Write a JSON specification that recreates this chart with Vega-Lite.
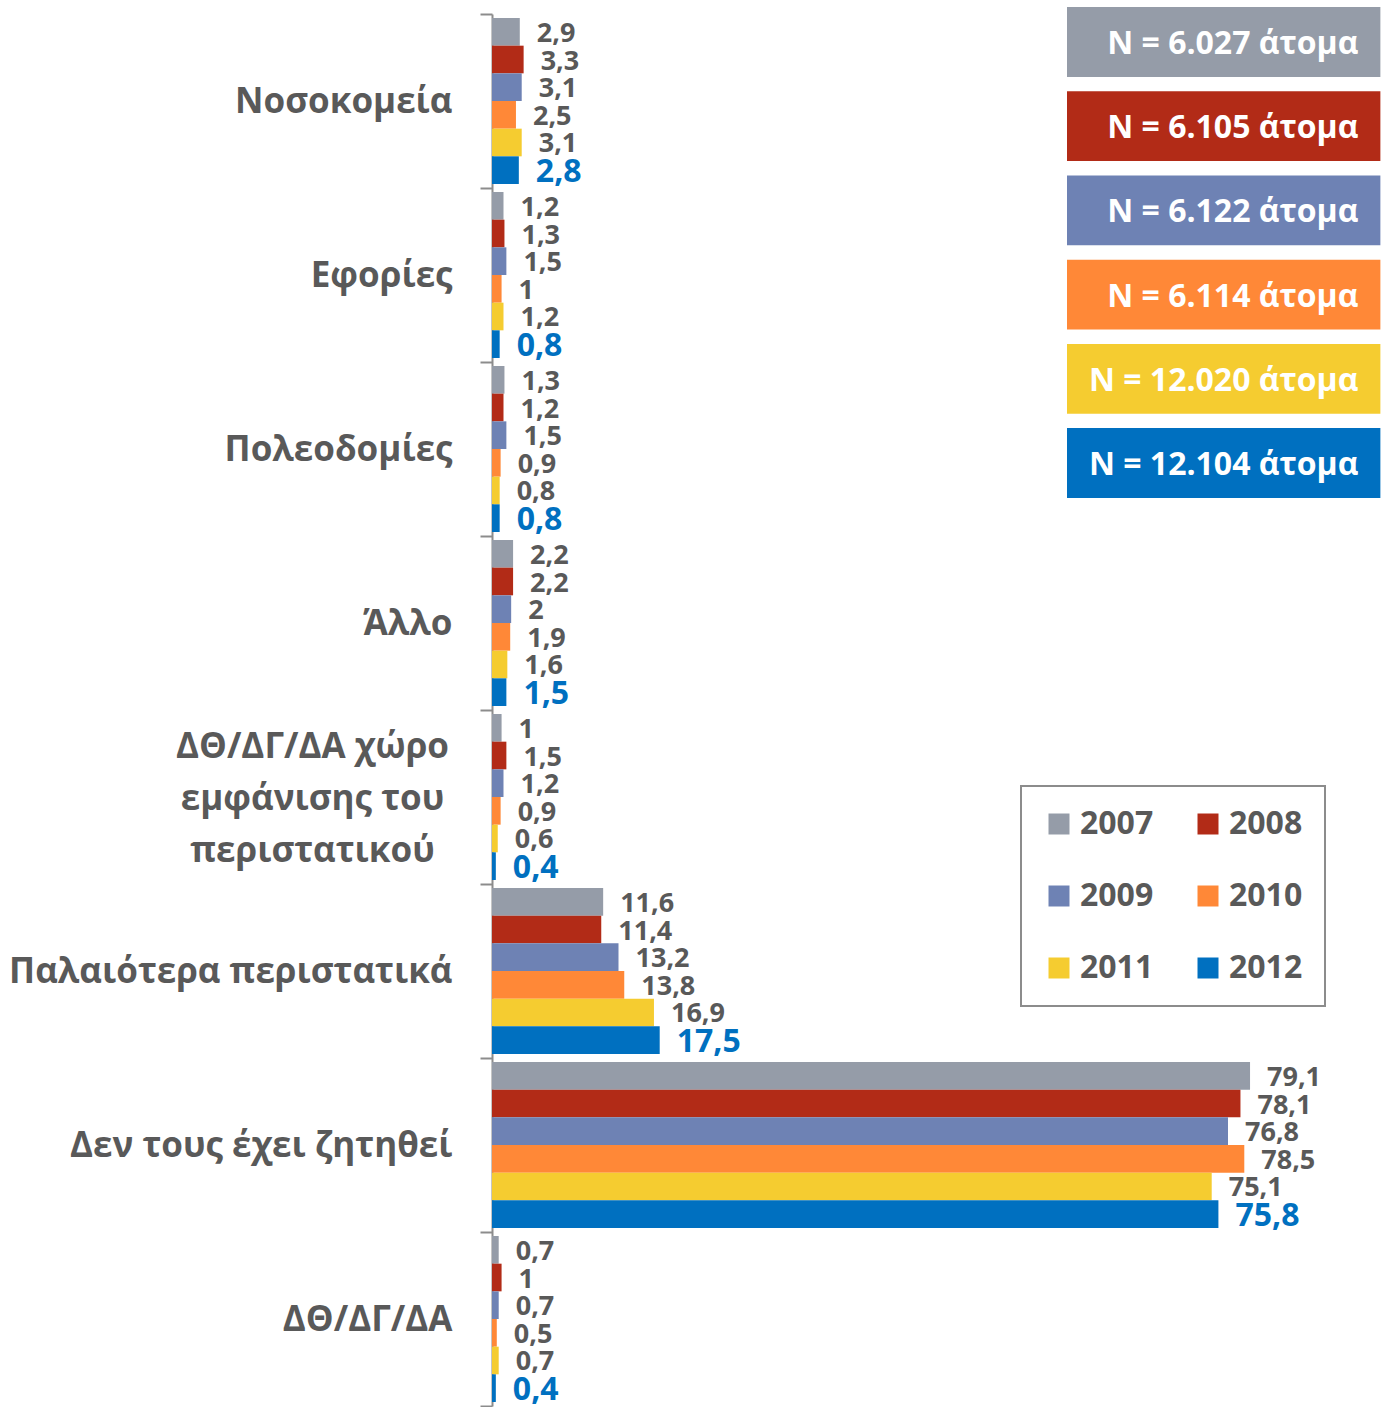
{
  "$schema": "https://vega.github.io/schema/vega-lite/v6.json",
  "width": 897,
  "height": 1392,
  "autosize": "none",
  "padding": {"top": 14, "left": 492, "right": 0, "bottom": 1},
  "background": "white",
  "config": {
    "view": {"stroke": null},
    "font": "Open Sans",
    "locale": {"number": {"decimal": ",", "thousands": ".", "grouping": [3], "currency": ["", "€"]}},
    "legend": {
      "orient": "none",
      "direction": "horizontal",
      "legendX": 529,
      "legendY": 772,
      "columns": 2,
      "columnPadding": 38,
      "rowPadding": 40,
      "padding": 22,
      "strokeColor": "#8C8C8C",
      "strokeWidth": 2,
      "symbolType": "square",
      "symbolSize": 441,
      "symbolStrokeWidth": 0,
      "labelFont": "Open Sans",
      "labelFontSize": 32,
      "labelFontWeight": "bold",
      "labelColor": "#595959",
      "labelOffset": 5,
      "title": null
    }
  },
  "layer": [
    {
      "data": {
        "values": [
          {"category": "Νοσοκομεία", "year": "2007", "value": 2.9},
          {"category": "Νοσοκομεία", "year": "2008", "value": 3.3},
          {"category": "Νοσοκομεία", "year": "2009", "value": 3.1},
          {"category": "Νοσοκομεία", "year": "2010", "value": 2.5},
          {"category": "Νοσοκομεία", "year": "2011", "value": 3.1},
          {"category": "Νοσοκομεία", "year": "2012", "value": 2.8},
          {"category": "Εφορίες", "year": "2007", "value": 1.2},
          {"category": "Εφορίες", "year": "2008", "value": 1.3},
          {"category": "Εφορίες", "year": "2009", "value": 1.5},
          {"category": "Εφορίες", "year": "2010", "value": 1},
          {"category": "Εφορίες", "year": "2011", "value": 1.2},
          {"category": "Εφορίες", "year": "2012", "value": 0.8},
          {"category": "Πολεοδομίες", "year": "2007", "value": 1.3},
          {"category": "Πολεοδομίες", "year": "2008", "value": 1.2},
          {"category": "Πολεοδομίες", "year": "2009", "value": 1.5},
          {"category": "Πολεοδομίες", "year": "2010", "value": 0.9},
          {"category": "Πολεοδομίες", "year": "2011", "value": 0.8},
          {"category": "Πολεοδομίες", "year": "2012", "value": 0.8},
          {"category": "Άλλο", "year": "2007", "value": 2.2},
          {"category": "Άλλο", "year": "2008", "value": 2.2},
          {"category": "Άλλο", "year": "2009", "value": 2},
          {"category": "Άλλο", "year": "2010", "value": 1.9},
          {"category": "Άλλο", "year": "2011", "value": 1.6},
          {"category": "Άλλο", "year": "2012", "value": 1.5},
          {"category": "ΔΘ/ΔΓ/ΔΑ χώρο εμφάνισης του περιστατικού", "year": "2007", "value": 1},
          {"category": "ΔΘ/ΔΓ/ΔΑ χώρο εμφάνισης του περιστατικού", "year": "2008", "value": 1.5},
          {"category": "ΔΘ/ΔΓ/ΔΑ χώρο εμφάνισης του περιστατικού", "year": "2009", "value": 1.2},
          {"category": "ΔΘ/ΔΓ/ΔΑ χώρο εμφάνισης του περιστατικού", "year": "2010", "value": 0.9},
          {"category": "ΔΘ/ΔΓ/ΔΑ χώρο εμφάνισης του περιστατικού", "year": "2011", "value": 0.6},
          {"category": "ΔΘ/ΔΓ/ΔΑ χώρο εμφάνισης του περιστατικού", "year": "2012", "value": 0.4},
          {"category": "Παλαιότερα περιστατικά", "year": "2007", "value": 11.6},
          {"category": "Παλαιότερα περιστατικά", "year": "2008", "value": 11.4},
          {"category": "Παλαιότερα περιστατικά", "year": "2009", "value": 13.2},
          {"category": "Παλαιότερα περιστατικά", "year": "2010", "value": 13.8},
          {"category": "Παλαιότερα περιστατικά", "year": "2011", "value": 16.9},
          {"category": "Παλαιότερα περιστατικά", "year": "2012", "value": 17.5},
          {"category": "Δεν τους έχει ζητηθεί", "year": "2007", "value": 79.1},
          {"category": "Δεν τους έχει ζητηθεί", "year": "2008", "value": 78.1},
          {"category": "Δεν τους έχει ζητηθεί", "year": "2009", "value": 76.8},
          {"category": "Δεν τους έχει ζητηθεί", "year": "2010", "value": 78.5},
          {"category": "Δεν τους έχει ζητηθεί", "year": "2011", "value": 75.1},
          {"category": "Δεν τους έχει ζητηθεί", "year": "2012", "value": 75.8},
          {"category": "ΔΘ/ΔΓ/ΔΑ", "year": "2007", "value": 0.7},
          {"category": "ΔΘ/ΔΓ/ΔΑ", "year": "2008", "value": 1},
          {"category": "ΔΘ/ΔΓ/ΔΑ", "year": "2009", "value": 0.7},
          {"category": "ΔΘ/ΔΓ/ΔΑ", "year": "2010", "value": 0.5},
          {"category": "ΔΘ/ΔΓ/ΔΑ", "year": "2011", "value": 0.7},
          {"category": "ΔΘ/ΔΓ/ΔΑ", "year": "2012", "value": 0.4}
        ]
      },
      "encoding": {
        "y": {
          "field": "category",
          "type": "nominal",
          "sort": null,
          "scale": {"paddingInner": 0, "paddingOuter": 0},
          "axis": {
            "title": null,
            "grid": false,
            "domainColor": "#8C8C8C",
            "domainWidth": 2,
            "tickColor": "#8C8C8C",
            "tickWidth": 2,
            "tickSize": 12,
            "tickBand": "extent",
            "labelPadding": {"condition": {"test": "datum.value == 'ΔΘ/ΔΓ/ΔΑ χώρο εμφάνισης του περιστατικού'", "value": 168}, "value": 28},
            "labelAlign": {"condition": {"test": "datum.value == 'ΔΘ/ΔΓ/ΔΑ χώρο εμφάνισης του περιστατικού'", "value": "center"}, "value": "right"},
            "labelOffset": {"condition": {"test": "datum.value == 'ΔΘ/ΔΓ/ΔΑ χώρο εμφάνισης του περιστατικού'", "value": -51}, "value": 0},
            "labelFont": "Open Sans",
            "labelFontSize": 35,
            "labelFontWeight": "bold",
            "labelColor": "#595959",
            "labelLimit": 600,
            "labelLineHeight": 52,
            "labelExpr": "datum.label == 'ΔΘ/ΔΓ/ΔΑ χώρο εμφάνισης του περιστατικού' ? ['ΔΘ/ΔΓ/ΔΑ χώρο', 'εμφάνισης του', 'περιστατικού'] : datum.label"
          }
        },
        "yOffset": {
          "field": "year",
          "type": "nominal",
          "scale": {"paddingInner": 0, "paddingOuter": 0.145}
        },
        "x": {
          "field": "value",
          "type": "quantitative",
          "scale": {"domain": [0, 93.6], "nice": false, "zero": true},
          "axis": null
        }
      },
      "layer": [
        {
          "mark": {"type": "bar"},
          "encoding": {
            "color": {
              "field": "year",
              "type": "nominal",
              "scale": {
                "domain": ["2007", "2008", "2009", "2010", "2011", "2012"],
                "range": ["#959CA8", "#B22B17", "#6E82B4", "#FF8837", "#F5CC30", "#0070C0"]
              }
            }
          }
        },
        {
          "mark": {"type": "text", "align": "left", "baseline": "middle", "dx": 17, "dy": 2, "font": "Open Sans", "fontWeight": "bold"},
          "encoding": {
            "text": {"field": "value", "type": "quantitative", "format": "~g"},
            "color": {"condition": {"test": "datum.year == '2012'", "value": "#0070C0"}, "value": "#595959"},
            "size": {"condition": {"test": "datum.year == '2012'", "value": 32}, "value": 27}
          }
        }
      ]
    },
    {
      "data": {
        "values": [
          {"year": "2007", "n": "N = 6.027 άτομα"},
          {"year": "2008", "n": "N = 6.105 άτομα"},
          {"year": "2009", "n": "N = 6.122 άτομα"},
          {"year": "2010", "n": "N = 6.114 άτομα"},
          {"year": "2011", "n": "N = 12.020 άτομα"},
          {"year": "2012", "n": "N = 12.104 άτομα"}
        ]
      },
      "encoding": {
        "y": {
          "field": "year",
          "type": "nominal",
          "scale": {"range": [-7, 484], "paddingInner": 0.17, "paddingOuter": 0},
          "axis": null
        }
      },
      "layer": [
        {
          "mark": {"type": "rect"},
          "encoding": {
            "x": {"datum": 60.0, "type": "quantitative", "scale": {"domain": [0, 93.6], "nice": false}},
            "x2": {"datum": 92.7},
            "color": {"field": "year", "type": "nominal"}
          }
        },
        {
          "mark": {"type": "text", "align": "right", "baseline": "middle", "dy": 2, "font": "Open Sans", "fontWeight": "bold", "fontSize": 32, "color": "white"},
          "encoding": {
            "x": {"datum": 90.4, "type": "quantitative"},
            "text": {"field": "n", "type": "nominal"}
          }
        }
      ]
    }
  ],
  "resolve": {"scale": {"y": "independent"}}
}
